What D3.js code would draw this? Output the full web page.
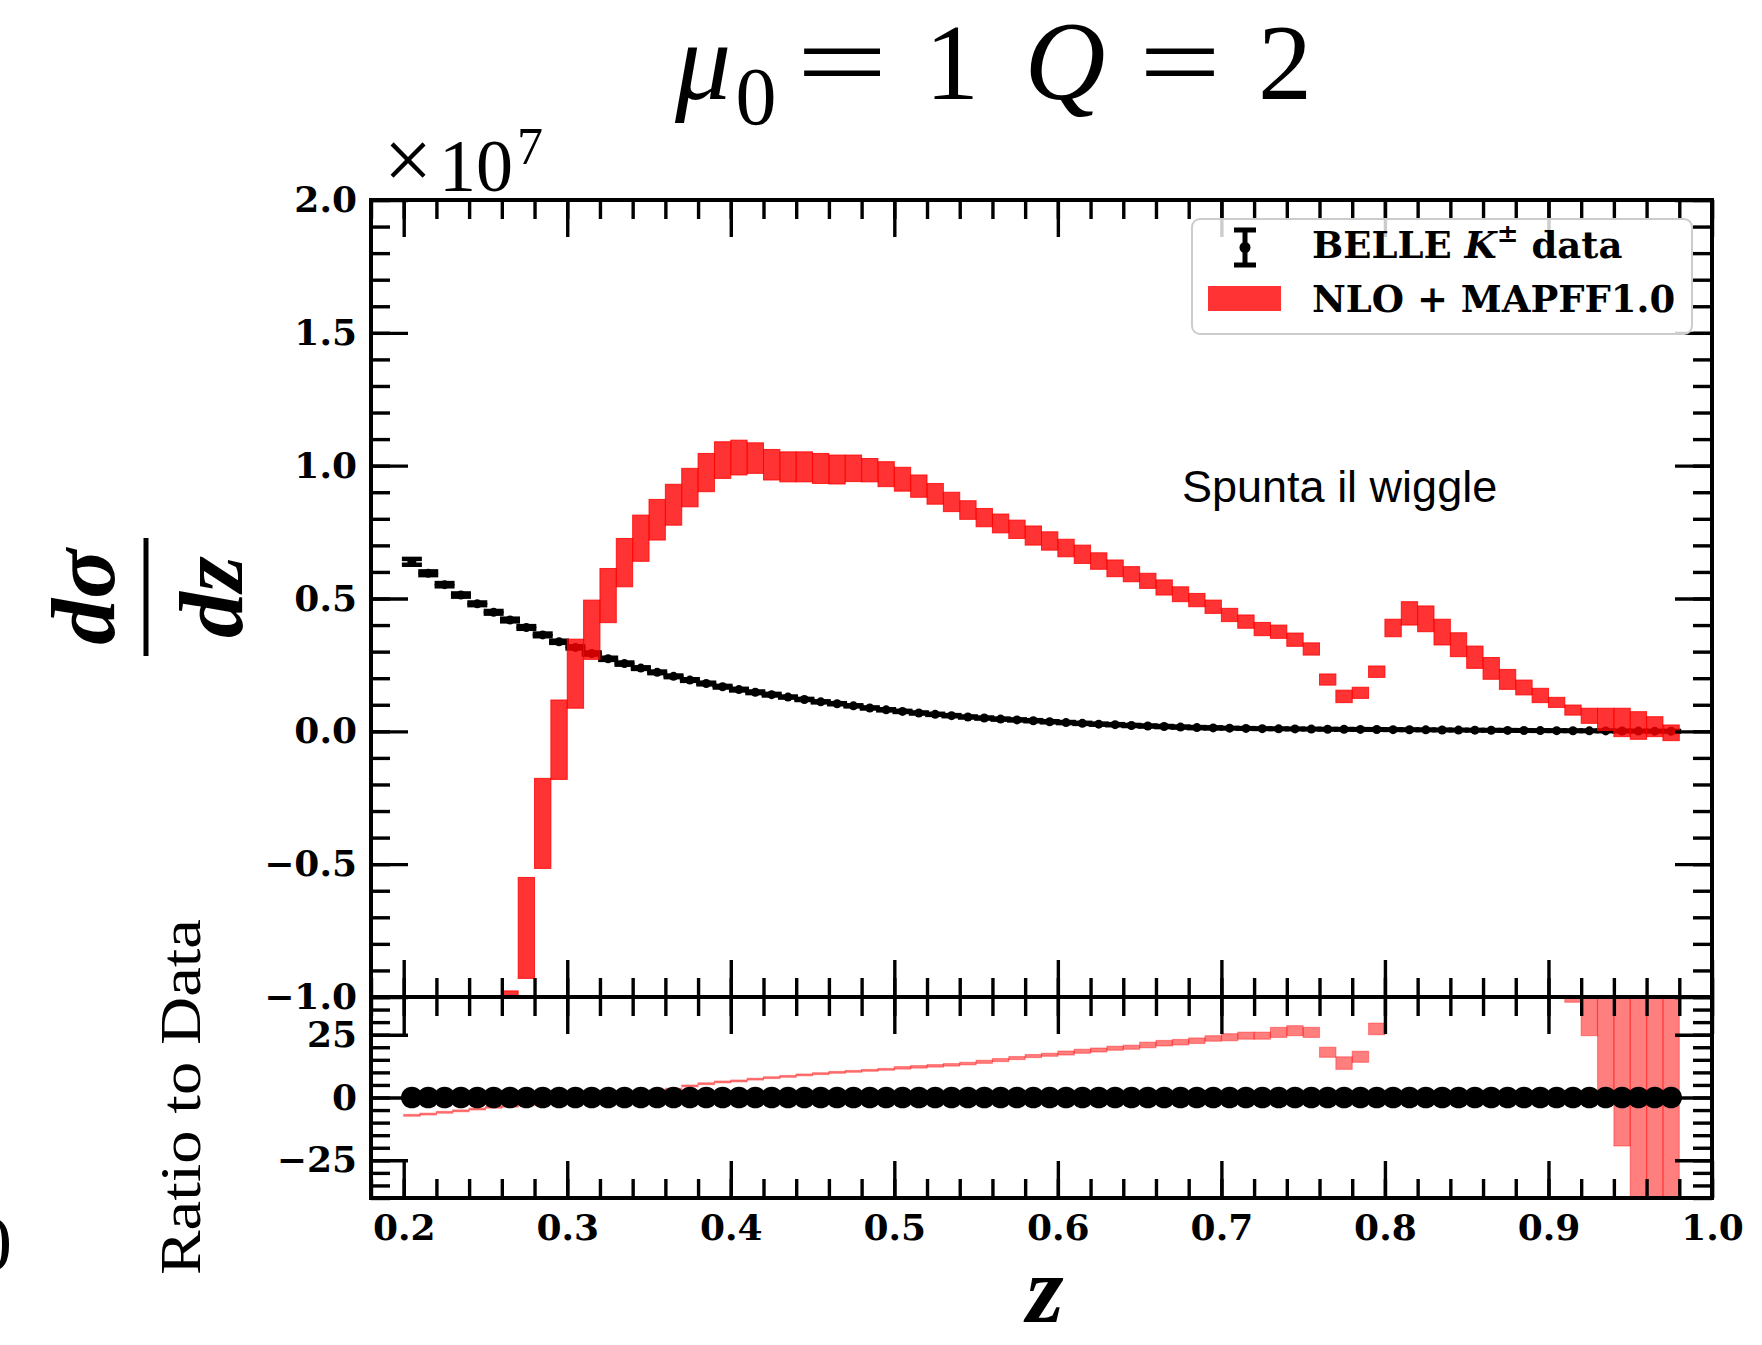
<!DOCTYPE html>
<html>
<head>
<meta charset="utf-8">
<script src="https://cdn.jsdelivr.net/npm/d3@7"></script>
<style>
  body { margin: 0; background: #ffffff; }
  svg { display: block; }
</style>
</head>
<body>
<svg id="chart" width="1762" height="1345"></svg>
<script>
// ---- data (cross sections in units of 1e7) ----
const zBins = [
  0.205,0.215,0.225,0.235,0.245,0.255,0.265,0.275,0.285,0.295,
  0.305,0.315,0.325,0.335,0.345,0.355,0.365,0.375,0.385,0.395,
  0.405,0.415,0.425,0.435,0.445,0.455,0.465,0.475,0.485,0.495,
  0.505,0.515,0.525,0.535,0.545,0.555,0.565,0.575,0.585,0.595,
  0.605,0.615,0.625,0.635,0.645,0.655,0.665,0.675,0.685,0.695,
  0.705,0.715,0.725,0.735,0.745,0.755,0.765,0.775,0.785,0.795,
  0.805,0.815,0.825,0.835,0.845,0.855,0.865,0.875,0.885,0.895,
  0.905,0.915,0.925,0.935,0.945,0.955,0.965,0.975
];
const binWidth = 0.01;

// BELLE K± measurement
const belleVal = [
  0.638,0.595,0.552,0.513,0.480,0.448,0.419,0.391,0.363,0.337,
  0.316,0.293,0.273,0.255,0.238,0.222,0.207,0.193,0.180,0.168,
  0.157,0.147,0.138,0.129,0.120,0.111,0.104,0.096,0.088,0.081,
  0.075,0.069,0.064,0.059,0.054,0.050,0.046,0.043,0.040,0.036,
  0.033,0.030,0.027,0.025,0.022,0.020,0.018,0.016,0.014,0.013,
  0.012,0.011,0.010,0.0095,0.009,0.0085,0.008,0.0076,0.0072,0.0068,
  0.0064,0.006,0.0056,0.0052,0.0048,0.0044,0.004,0.0036,0.0032,0.0028,
  0.0025,0.0022,0.0019,0.0016,0.0013,0.001,0.0007,0.0004
];
const belleErr = [
  0.011,0.007,0.006,0.006,0.005,0.005,0.005,0.005,0.005,0.004,
  0.004,0.004,0.004,0.004,0.003,0.003,0.003,0.003,0.003,0.003,
  0.003,0.003,0.003,0.002,0.002,0.002,0.002,0.002,0.002,0.002,
  0.002,0.002,0.002,0.002,0.002,0.002,0.002,0.002,0.002,0.002,
  0.002,0.002,0.002,0.002,0.002,0.002,0.002,0.002,0.002,0.002,
  0.001,0.001,0.001,0.001,0.001,0.001,0.001,0.001,0.001,0.001,
  0.001,0.001,0.001,0.001,0.001,0.001,0.001,0.001,0.001,0.001,
  0.001,0.001,0.001,0.001,0.001,0.001,0.001,0.001
];

// NLO + MAPFF1.0 uncertainty band (lower / upper edge per bin)
const nloLo = [
  -4.15,-3.60,-2.95,-2.45,-1.95,-1.50,-1.18,-0.93,-0.516,-0.181,
  0.087,0.271,0.409,0.544,0.640,0.720,0.776,0.845,0.902,0.952,
  0.965,0.971,0.946,0.939,0.939,0.933,0.931,0.940,0.939,0.921,
  0.904,0.881,0.855,0.827,0.798,0.770,0.747,0.726,0.701,0.682,
  0.657,0.632,0.610,0.582,0.563,0.538,0.513,0.488,0.469,0.444,
  0.413,0.388,0.360,0.350,0.320,0.287,0.174,0.108,0.124,0.203,
  0.356,0.400,0.375,0.325,0.281,0.237,0.196,0.158,0.137,0.108,
  0.090,0.061,0.030,0.003,-0.020,-0.030,-0.020,-0.035
];
const nloHi = [
  -3.60,-3.05,-2.45,-1.95,-1.50,-1.10,-0.977,-0.55,-0.177,0.118,
  0.347,0.494,0.613,0.726,0.814,0.873,0.930,0.990,1.046,1.090,
  1.096,1.086,1.061,1.052,1.052,1.046,1.040,1.040,1.027,1.015,
  0.994,0.965,0.933,0.900,0.868,0.839,0.818,0.795,0.773,0.751,
  0.723,0.701,0.672,0.645,0.620,0.595,0.570,0.544,0.519,0.494,
  0.463,0.438,0.410,0.400,0.370,0.333,0.216,0.155,0.166,0.246,
  0.422,0.488,0.472,0.422,0.371,0.321,0.278,0.233,0.193,0.162,
  0.128,0.099,0.087,0.087,0.087,0.074,0.055,0.024
];

// ratio panel band (lower / upper edge per bin)
const ratioLo = [
  -7.45,-6.95,-6.25,-5.65,-4.95,-4.25,-3.85,-3.25,-2.65,-1.95,
  -1.25,-0.55,0.15,0.85,1.55,2.25,2.95,4.25,5.15,5.85,
  6.25,6.95,7.55,8.05,8.65,9.15,9.65,10.05,10.45,10.85,
  11.3,11.7,12.1,12.5,13.0,13.6,14.3,15.1,15.9,16.4,
  16.9,17.6,18.1,18.8,19.2,19.8,20.5,20.9,21.5,22.4,
  22.6,23.2,23.2,23.9,24.6,23.9,16.0,11.2,14.0,25.0,
  45,48,50,50,50,50,50,48,46,44,
  42,37.9,24.6,-1.0,-19.3,-70,-70,-70
];
const ratioHi = [
  -6.75,-6.25,-5.55,-4.95,-4.25,-3.55,-3.15,-2.55,-1.95,-1.25,
  -0.55,0.15,0.85,1.55,2.25,2.95,3.65,4.95,5.85,6.55,
  6.95,7.65,8.25,8.75,9.35,9.85,10.35,10.75,11.15,11.55,
  12.3,12.7,13.1,13.5,14.0,14.8,15.5,16.3,17.1,17.6,
  18.5,19.2,19.7,20.4,20.8,22.0,22.7,23.1,23.7,24.6,
  25.4,26.0,26.0,27.9,28.6,27.9,20.0,16.2,18.4,29.6,
  60,65,70,70,70,70,70,70,70,70,
  70,70,70,70,70,70,70,70
];

// axis ticks
const xMajorTicks = [0.2,0.3,0.4,0.5,0.6,0.7,0.8,0.9,1.0];
const mainYTicks = [-1.0,-0.5,0.0,0.5,1.0,1.5,2.0];
const ratioYTicks = [-25,0,25];

// ---- layout ----
const W = 1762, H = 1345;
const L = 371, R = 1712, T = 200, MB = 997, RB = 1198;
const MAJ = 37, MIN = 19, TICKW = 3.4;
const RED = "#ff0000";
const tickFont = "DejaVu Serif";
const serif = "Liberation Serif";

const svg = d3.select("#chart");
svg.append("rect").attr("width", W).attr("height", H).attr("fill", "#fff");

const x = d3.scaleLinear().domain([0.18, 1.0]).range([L, R]);
const yMain = d3.scaleLinear().domain([-1, 2]).range([MB, T]);
const yRatio = d3.scaleLinear().domain([-40, 40]).range([RB, MB]);

const xMinorTicks = d3.range(9, 51).map(i => +(i * 0.02).toFixed(2));
const mainYMinor = d3.range(-10, 21).map(i => +(i * 0.1).toFixed(1));
const ratioYMinor = d3.range(-8, 9).map(i => i * 5);

const defs = svg.append("defs");
defs.append("clipPath").attr("id", "clipMain")
  .append("rect").attr("x", L).attr("y", T).attr("width", R - L).attr("height", MB - T);
defs.append("clipPath").attr("id", "clipRatio")
  .append("rect").attr("x", L).attr("y", MB).attr("width", R - L).attr("height", RB - MB);

const rows = zBins.map((z, i) => ({
  z, v: belleVal[i], e: belleErr[i],
  lo: nloLo[i], hi: nloHi[i], rlo: ratioLo[i], rhi: ratioHi[i]
}));

// ---- main panel: data points with error bars ----
const gMain = svg.append("g").attr("clip-path", "url(#clipMain)");
const cap = 10;
const gData = gMain.append("g").attr("stroke", "#000").attr("stroke-width", 4.5);
gData.selectAll("line.bar").data(rows).join("line").attr("class", "bar")
  .attr("x1", d => x(d.z)).attr("x2", d => x(d.z))
  .attr("y1", d => yMain(d.v - d.e)).attr("y2", d => yMain(d.v + d.e));
gData.selectAll("line.capTop").data(rows).join("line").attr("class", "capTop")
  .attr("x1", d => x(d.z) - cap).attr("x2", d => x(d.z) + cap)
  .attr("y1", d => yMain(d.v + d.e)).attr("y2", d => yMain(d.v + d.e));
gData.selectAll("line.capBot").data(rows).join("line").attr("class", "capBot")
  .attr("x1", d => x(d.z) - cap).attr("x2", d => x(d.z) + cap)
  .attr("y1", d => yMain(d.v - d.e)).attr("y2", d => yMain(d.v - d.e));
gMain.append("g").selectAll("circle").data(rows).join("circle")
  .attr("cx", d => x(d.z)).attr("cy", d => yMain(d.v)).attr("r", 4.5).attr("fill", "#000");

// theory band drawn over the data
gMain.append("g").selectAll("rect").data(rows).join("rect")
  .attr("x", d => x(d.z - binWidth / 2))
  .attr("width", d => x(d.z + binWidth / 2) - x(d.z - binWidth / 2))
  .attr("y", d => yMain(d.hi))
  .attr("height", d => yMain(d.lo) - yMain(d.hi))
  .attr("fill", RED).attr("fill-opacity", 0.8)
  .attr("stroke", RED).attr("stroke-opacity", 0.8).attr("stroke-width", 1);

// ---- ratio panel ----
const gRatio = svg.append("g").attr("clip-path", "url(#clipRatio)");
gRatio.append("g").selectAll("rect").data(rows).join("rect")
  .attr("x", d => x(d.z - binWidth / 2))
  .attr("width", d => x(d.z + binWidth / 2) - x(d.z - binWidth / 2))
  .attr("y", d => yRatio(d.rhi))
  .attr("height", d => yRatio(d.rlo) - yRatio(d.rhi))
  .attr("fill", RED).attr("fill-opacity", 0.5)
  .attr("stroke", RED).attr("stroke-opacity", 0.35).attr("stroke-width", 1.2);
gRatio.append("g").selectAll("circle").data(rows).join("circle")
  .attr("cx", d => x(d.z)).attr("cy", yRatio(0)).attr("r", 10.8).attr("fill", "#000");

// ---- ticks ----
function styleTicks(g) {
  g.select(".domain").remove();
  g.selectAll(".tick line").attr("stroke", "#000").attr("stroke-width", TICKW);
}
function tickRow(axisFn, scale, values, len, pos, isX) {
  const a = axisFn(scale).tickValues(values).tickSize(-len).tickFormat("");
  svg.append("g").attr("transform", isX ? `translate(0,${pos})` : `translate(${pos},0)`)
    .call(a).call(styleTicks);
}
// main panel
tickRow(d3.axisTop, x, xMinorTicks, MIN, T, true);
tickRow(d3.axisTop, x, xMajorTicks, MAJ, T, true);
tickRow(d3.axisBottom, x, xMinorTicks, MIN, MB, true);
tickRow(d3.axisBottom, x, xMajorTicks, MAJ, MB, true);
tickRow(d3.axisLeft, yMain, mainYMinor, MIN, L, false);
tickRow(d3.axisRight, yMain, mainYMinor, MIN, R, false);
tickRow(d3.axisRight, yMain, mainYTicks, MAJ, R, false);
// ratio panel
tickRow(d3.axisTop, x, xMinorTicks, MIN, MB, true);
tickRow(d3.axisTop, x, xMajorTicks, MAJ, MB, true);
tickRow(d3.axisBottom, x, xMinorTicks, MIN, RB, true);
tickRow(d3.axisLeft, yRatio, ratioYMinor, MIN, L, false);
tickRow(d3.axisRight, yRatio, ratioYMinor, MIN, R, false);
tickRow(d3.axisRight, yRatio, ratioYTicks, MAJ, R, false);

// labelled axes
function labelStyle(g) {
  styleTicks(g);
  g.selectAll(".tick text").attr("fill", "#000")
    .attr("font-family", tickFont).attr("font-weight", "bold").attr("font-size", 36);
}
svg.append("g").attr("transform", `translate(${L},0)`)
  .call(d3.axisLeft(yMain).tickValues(mainYTicks).tickSize(-MAJ).tickPadding(14)
    .tickFormat(d3.format(".1f")))
  .call(labelStyle);
svg.append("g").attr("transform", `translate(${L},0)`)
  .call(d3.axisLeft(yRatio).tickValues(ratioYTicks).tickSize(-MAJ).tickPadding(14)
    .tickFormat(d3.format("d")))
  .call(labelStyle);
svg.append("g").attr("transform", `translate(0,${RB})`)
  .call(d3.axisBottom(x).tickValues(xMajorTicks).tickSize(-MAJ).tickPadding(16)
    .tickFormat(d3.format(".1f")))
  .call(labelStyle);

// frames
[[T, MB], [MB, RB]].forEach(([a, b]) => {
  svg.append("rect").attr("x", L).attr("y", a).attr("width", R - L).attr("height", b - a)
    .attr("fill", "none").attr("stroke", "#000").attr("stroke-width", 4);
});

// ---- legend ----
const lg = svg.append("g");
lg.append("rect").attr("x", 1192).attr("y", 219).attr("width", 500).attr("height", 115)
  .attr("rx", 8).attr("fill", "#fff").attr("fill-opacity", 0.8)
  .attr("stroke", "#cccccc").attr("stroke-width", 2);
const ex = 1245, ey1 = 230, ey2 = 265;
lg.append("line").attr("x1", ex).attr("x2", ex).attr("y1", ey1).attr("y2", ey2)
  .attr("stroke", "#000").attr("stroke-width", 5);
[ey1, ey2].forEach(yy => lg.append("line").attr("x1", ex - 11).attr("x2", ex + 11)
  .attr("y1", yy).attr("y2", yy).attr("stroke", "#000").attr("stroke-width", 5));
lg.append("circle").attr("cx", ex).attr("cy", (ey1 + ey2) / 2).attr("r", 5.5).attr("fill", "#000");
lg.append("rect").attr("x", 1208).attr("y", 286).attr("width", 73).attr("height", 25)
  .attr("fill", RED).attr("fill-opacity", 0.8);
const t1 = lg.append("text").attr("x", 1312).attr("y", 258)
  .attr("font-family", tickFont).attr("font-weight", "bold").attr("font-size", 37).attr("fill", "#000");
t1.append("tspan").text("BELLE ");
t1.append("tspan").attr("font-style", "italic").text("K");
t1.append("tspan").attr("font-size", 26).attr("dy", -16).text("±");
t1.append("tspan").attr("dy", 16).text(" data");
lg.append("text").attr("x", 1312).attr("y", 312)
  .attr("font-family", tickFont).attr("font-weight", "bold").attr("font-size", 37).attr("fill", "#000")
  .text("NLO + MAPFF1.0");

// annotation
svg.append("text").attr("x", 1182).attr("y", 502)
  .attr("font-family", "Liberation Sans").attr("font-size", 45).attr("fill", "#000")
  .text("Spunta il wiggle");

// ---- title ----
function glyph(txt, gx, gy, size, opts = {}) {
  const t = svg.append("text").attr("x", gx).attr("y", gy)
    .attr("font-family", serif).attr("font-size", size).attr("fill", "#000")
    .attr("text-anchor", "middle").text(txt);
  if (opts.italic) t.attr("font-style", "italic");
  if (opts.len) t.attr("textLength", opts.len).attr("lengthAdjust", "spacingAndGlyphs");
  return t;
}
glyph("μ", 703, 99, 112, { italic: true });
glyph("0", 756, 124, 82);
glyph("=", 842, 99, 110, { len: 92 });
glyph("1", 952, 99, 108);
glyph("Q", 1065, 99, 112, { italic: true });
glyph("=", 1180, 99, 110, { len: 82 });
glyph("2", 1285, 99, 108);

// offset multiplier
glyph("×", 408, 189, 86);
glyph("10", 476, 191, 74);
glyph("7", 530, 164, 52);

// ---- axis labels ----
svg.append("text").attr("x", 1045).attr("y", 1322).attr("text-anchor", "middle")
  .attr("font-family", serif).attr("font-weight", "bold").attr("font-style", "italic")
  .attr("font-size", 96).attr("fill", "#000").text("z");

const yl = svg.append("g").attr("transform", "translate(146,597) rotate(-90)");
yl.append("text").attr("x", 0).attr("y", -32).attr("text-anchor", "middle")
  .attr("font-family", serif).attr("font-weight", "bold").attr("font-style", "italic")
  .attr("font-size", 92).attr("fill", "#000").text("dσ");
yl.append("line").attr("x1", -59).attr("x2", 59).attr("y1", 0).attr("y2", 0)
  .attr("stroke", "#000").attr("stroke-width", 5);
yl.append("text").attr("x", 0).attr("y", 96).attr("text-anchor", "middle")
  .attr("font-family", serif).attr("font-weight", "bold").attr("font-style", "italic")
  .attr("font-size", 92).attr("fill", "#000").text("dz");

svg.append("g").attr("transform", "translate(200,1097) rotate(-90)")
  .append("text").attr("x", 0).attr("y", 0).attr("text-anchor", "middle")
  .attr("font-family", serif).attr("font-size", 56).attr("fill", "#000")
  .attr("textLength", 356).attr("lengthAdjust", "spacingAndGlyphs")
  .text("Ratio to Data");

// stray glyph at the left edge
svg.append("text").attr("x", 12).attr("y", 1270).attr("text-anchor", "end")
  .attr("font-family", serif).attr("font-size", 78).attr("fill", "#000").text("0");
</script>
</body>
</html>
